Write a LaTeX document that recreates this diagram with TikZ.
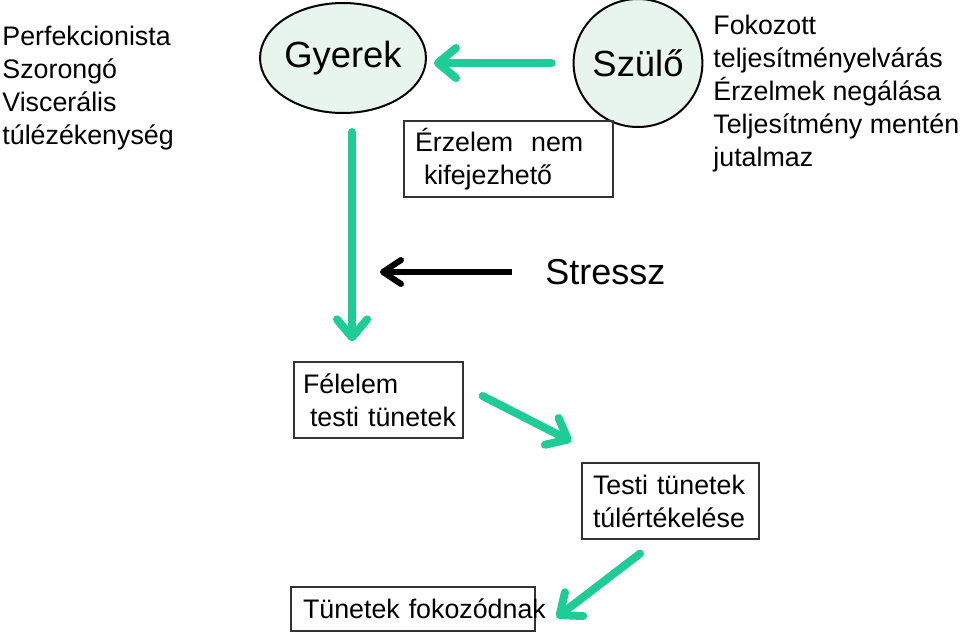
\documentclass[tikz,border=0pt]{standalone}
\usepackage{fontspec}
\setmainfont{Liberation Sans}
\usetikzlibrary{arrows.meta,shapes.geometric}
\definecolor{mint}{RGB}{30,204,150}
\definecolor{palemint}{RGB}{232,244,238}

\begin{document}
\begin{tikzpicture}[x=0.5pt,y=-0.5pt,
  person/.style={ellipse,draw=black,line width=1pt,fill=palemint,inner sep=0pt,
    font=\fontsize{18.2}{21}\selectfont},
  notebox/.style={draw=black!80,line width=.6pt,inner xsep=5.5pt,inner ysep=0pt,
    minimum height=38pt,align=left,font=\fontsize{13.4}{16.5}\selectfont},
  plain/.style={inner sep=0pt,align=left,font=\fontsize{13.4}{16.5}\selectfont},
  flow/.style={-{Straight Barb[length=9pt,width=15pt,round]},draw=mint,line width=4pt,line cap=round},
  push/.style={-{Straight Barb[length=9pt,width=12pt,round]},draw=black,line width=3pt}
]
\useasboundingbox (0,0) rectangle (960,632);
% people
\node[person,minimum width=68pt,minimum height=55pt] (gyerek) at (343,58) {Gyerek};
\node[person,minimum width=64pt,minimum height=64pt] (szulo) at (638,63) {Szülő};
% side texts
\node[plain,anchor=west] (traits) at (2,88) {Perfekcionista\\Szorongó\\Viscerális\\túlézékenység};
\node[plain,anchor=west] (parent) at (713,94) {Fokozott\\teljesítményelvárás\\Érzelmek negálása\\Teljesítmény mentén\\jutalmaz};
% boxes
\node[notebox,text width=93.5pt] (erzelem) at (508.5,159) {Érzelem~ nem\\\hspace*{4.5pt}kifejezhető};
\node[notebox,text width=75.5pt,inner xsep=4.5pt] (felelem) at (378.5,400) {\mbox{Félelem}\\\mbox{\hspace*{3.5pt}testi tünetek}};
\node[notebox,text width=77.5pt] (testi) at (670.5,501) {Testi tünetek\\túlértékelése};
\node[notebox,text width=110pt,inner xsep=6pt,minimum height=22pt] (fokoz) at (413,609) {\mbox{Tünetek fokozódnak}};
% stress
\node[inner sep=0pt,anchor=west,font=\fontsize{18}{21}\selectfont] (stressz) at (545,272) {Stressz};
\coordinate (stresstip) at (380,272);
% arrows
\draw[flow,shorten <=10.5pt,shorten >=3.5pt] (szulo.west) -- (gyerek.east |- szulo.west);
\draw[flow,shorten <=9pt,shorten >=10pt] ([xshift=4.5pt]gyerek.south) -- ([xshift=4.5pt]gyerek.south |- felelem.north);
\draw[push] ([xshift=-16.5pt]stressz.west) -- (stresstip);
\draw[flow] ([shift={(19,-4)}]felelem.east) -- ([shift={(-10,-21)}]testi.north west);
\draw[flow] ([shift={(-30.5,14)}]testi.south) -- ([shift={(21,8.5)}]fokoz.east);
\end{tikzpicture}
\end{document}
